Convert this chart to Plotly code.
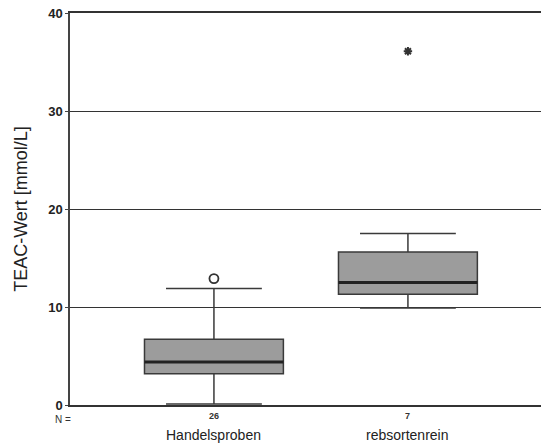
import plotly.graph_objects as go

categories = ["Handelsproben", "rebsortenrein"]
n_counts = ["26", "7"]
q1 = [3.2, 11.3]
median = [4.4, 12.5]
q3 = [6.7, 15.6]
lower_whisker = [0.1, 9.9]
upper_whisker = [11.9, 17.5]
outlier_circle_x = [0]
outlier_circle_y = [12.9]
extreme_star_x = [1]
extreme_star_y = [36.1]
y_ticks = [0, 10, 20, 30, 40]

box_w = 0.716
font_fam = "Liberation Sans, Arial, sans-serif"

fig = go.Figure()
xs = list(range(len(categories)))
fig.add_trace(go.Box(
    x=xs, q1=q1, median=median, q3=q3,
    lowerfence=lower_whisker, upperfence=upper_whisker,
    width=box_w, whiskerwidth=0.69,
    fillcolor="#9c9c9c", line=dict(color="#3a3a3a", width=1.5),
    boxpoints=False, showlegend=False, hoverinfo="skip",
))
for i, m in enumerate(median):
    fig.add_trace(go.Scatter(
        x=[xs[i] - box_w / 2, xs[i] + box_w / 2], y=[m, m], mode="lines",
        line=dict(color="#222222", width=3), showlegend=False, hoverinfo="skip"))
fig.add_trace(go.Scatter(
    x=outlier_circle_x, y=outlier_circle_y, mode="markers",
    marker=dict(symbol="circle-open", size=9, color="#333", line=dict(width=1.8)),
    showlegend=False))
fig.add_trace(go.Scatter(
    x=extreme_star_x, y=extreme_star_y, mode="markers",
    marker=dict(symbol="asterisk", size=7, color="#333", line=dict(width=2, color="#333")),
    showlegend=False))

fig.update_layout(
    width=541, height=447,
    margin=dict(l=70, r=0, t=13, b=42),
    paper_bgcolor="white", plot_bgcolor="white",
    font=dict(family=font_fam, color="#222"),
    xaxis=dict(range=[-0.742, 1.686], showticklabels=False, showgrid=False,
               zeroline=False, showline=True, mirror=True, linecolor="#333", linewidth=1.5,
               fixedrange=True),
    yaxis=dict(range=[0, 40], tickvals=y_ticks,
               ticktext=[f"<b>{v}</b>" for v in y_ticks],
               showgrid=True, gridcolor="#333",
               gridwidth=1, zeroline=True, zerolinecolor="#333", zerolinewidth=1.5,
               showline=True, linecolor="#444", linewidth=1.5,
               ticks="outside", ticklen=3, tickcolor="#444",
               tickfont=dict(size=13, family=font_fam, color="#222"),
               title=dict(text="TEAC-Wert [mmol/L]", font=dict(size=18, family=font_fam, color="#222"),
                          standoff=16)),
)

fig.add_annotation(text="N =", x=0.006, xref="paper", xanchor="right",
                   y=-0.036, yref="paper", yanchor="middle",
                   showarrow=False, font=dict(size=10, family=font_fam, color="#333"))
for i, c in enumerate(categories):
    fig.add_annotation(text=f"<b>{n_counts[i]}</b>", x=xs[i], xref="x",
                       y=-0.028, yref="paper", yanchor="middle",
                       showarrow=False, font=dict(size=9, family=font_fam, color="#333"))
    fig.add_annotation(text=c, x=xs[i], xref="x", y=-0.0765, yref="paper", yanchor="middle",
                       showarrow=False, font=dict(size=14, family=font_fam, color="#222"))

fig.write_html("out.html")
